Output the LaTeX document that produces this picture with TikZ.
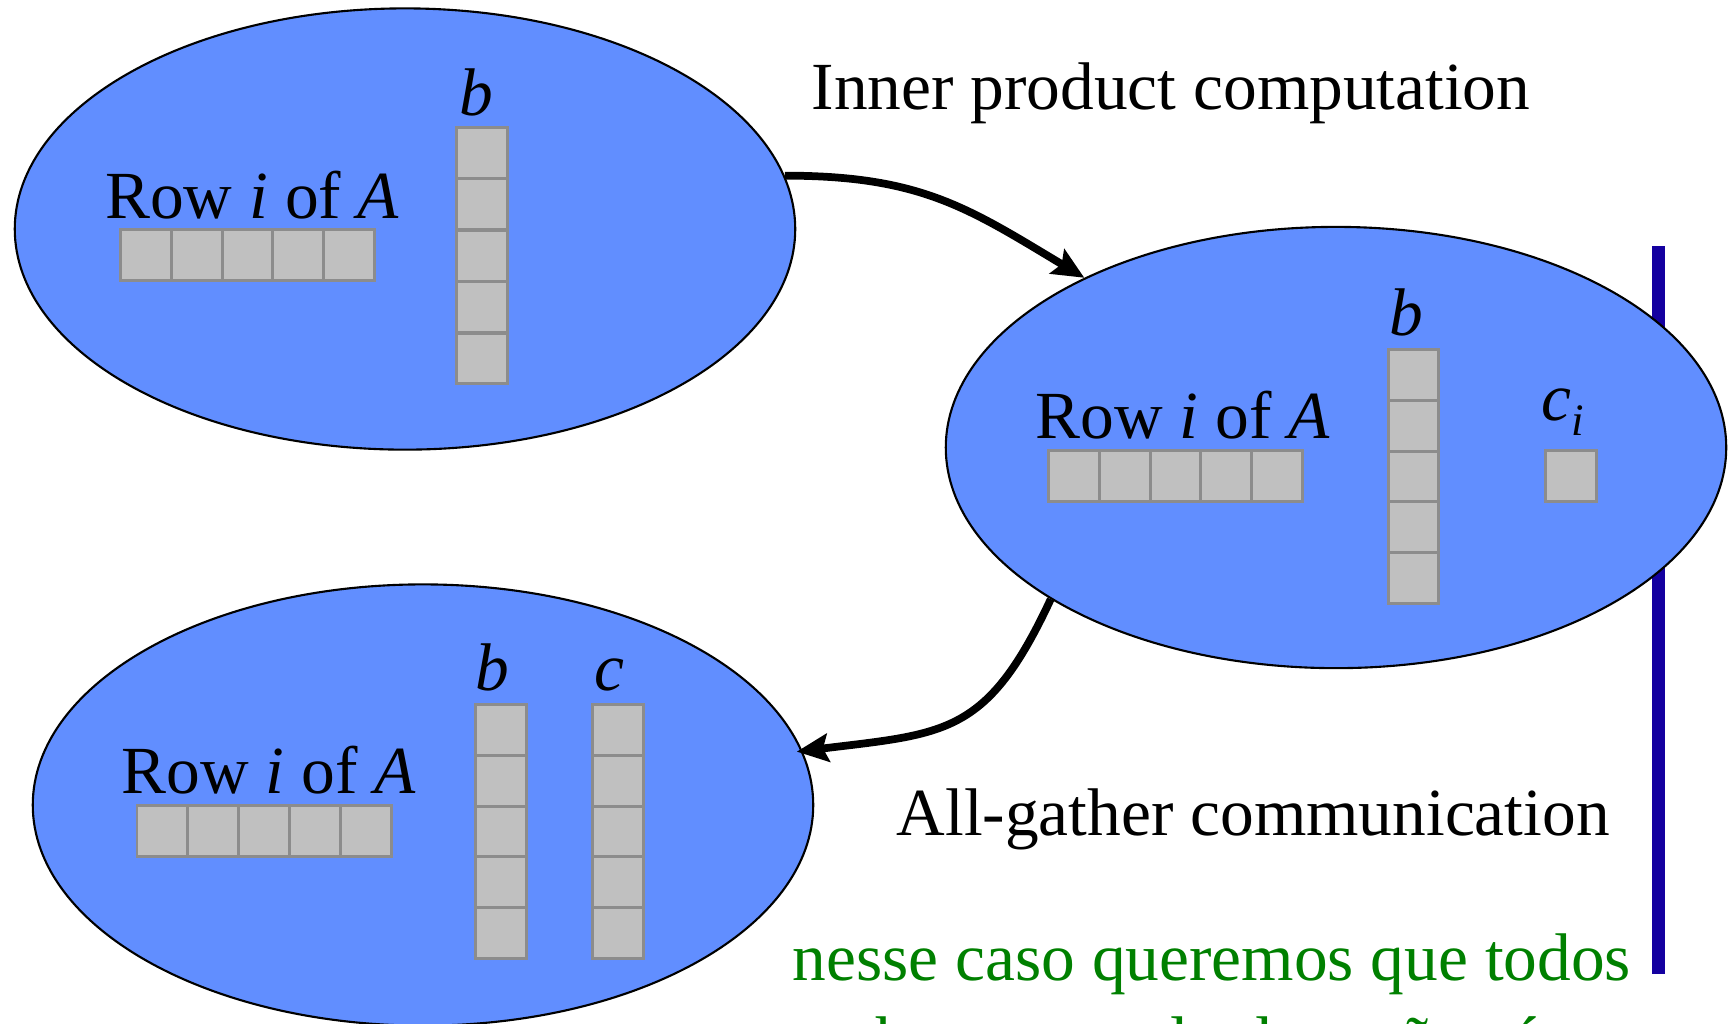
\documentclass[tikz,border=0pt]{standalone}
\usepackage{fontspec}
\setmainfont{Liberation Serif}
\usetikzlibrary{shapes.geometric,arrows.meta}

\definecolor{procblue}{RGB}{97,142,255}
\definecolor{cellfill}{RGB}{192,192,192}
\definecolor{cellline}{RGB}{140,140,140}
\definecolor{barblue}{RGB}{20,0,160}
\definecolor{notegreen}{RGB}{0,128,0}

\newcommand\slidefont{\fontsize{19.16pt}{23pt}\selectfont}
\newcommand\subfont{\fontsize{12.8pt}{14pt}\selectfont}

\tikzset{
  proc/.style={ellipse, draw=black, line width=0.6pt, fill=procblue,
    minimum width=7.8cm, minimum height=4.41cm, inner sep=0pt},
  cell/.style={rectangle, draw=cellline, fill=cellfill, line width=0.85pt,
    minimum width=0.508cm, minimum height=0.508cm, inner sep=0pt, anchor=north west},
  lbl/.style={font=\slidefont, inner sep=0pt, anchor=base west},
  vlbl/.style={font=\slidefont, inner sep=0pt, anchor=base},
  note/.style={font=\slidefont, text=notegreen, inner sep=0pt, anchor=base west},
  conn/.style={line width=2.2pt, -{Stealth[length=9pt, width=8pt, inset=1.5pt]}},
}

\begin{document}
\begin{tikzpicture}[x=0.01cm, y=0.01cm]
  \useasboundingbox (0,0) rectangle (1731,-1023);
  \clip (0,0) rectangle (1731,-1023);

  % vertical bar on the right, partly hidden by the second process
  \fill[barblue] (1652,-246) rectangle (1665,-974);

  % three processes
  \node[proc] (e1) at (405,-229) {};
  \node[proc] (e2) at (1336,-447.5) {};
  \node[proc] (e3) at (423,-805) {};

  % process 1: row of A and vector b
  \node[lbl] (rowA1) at (104.6,-218) {Row \textit{i} of \textit{A}};
  \foreach \k in {0,...,4} {
    \node[cell] (r1-\k) at ({119+50.8*\k},-228) {};
    \node[cell] (b1-\k) at (455,{-126-51.4*\k}) {};
  }
  \node[vlbl] (lb1) at (476,-115) {\textit{b}};

  % process 2: row of A, vector b and element c_i
  \node[lbl] (rowA2) at (1035,-438) {Row \textit{i} of \textit{A}};
  \foreach \k in {0,...,4} {
    \node[cell] (r2-\k) at ({1047+50.8*\k},-449) {};
    \node[cell] (b2-\k) at (1386.5,{-348-50.8*\k}) {};
  }
  \node[vlbl] (lb2) at (1406,-335) {\textit{b}};
  \node[cell] (ci) at (1544,-449) {};
  \node[lbl] (lci) at (1541,-420) {\textit{c}\raisebox{-0.15cm}{\subfont\textit{i}}};

  % process 3: row of A, vector b and gathered vector c
  \node[lbl] (rowA3) at (121,-793) {Row \textit{i} of \textit{A}};
  \foreach \k in {0,...,4} {
    \node[cell] (r3-\k) at ({135.5+50.8*\k},-804) {};
    \node[cell] (b3-\k) at (474,{-703-50.8*\k}) {};
    \node[cell] (c3-\k) at (591,{-703-50.8*\k}) {};
  }
  \node[vlbl] (lb3) at (492,-690) {\textit{b}};
  \node[vlbl] (lc3) at (609,-690) {\textit{c}};

  % step captions
  \node[lbl] (cap1) at (811,-109) {Inner product computation};
  \node[lbl] (cap2) at (896,-835) {All-gather communication};

  % note
  \node[note] (note1) at (792,-980) {nesse caso queremos que todos};
  \node[note] (note2) at (792,-1063) {tenham o resultado e não só o};

  % connectors
  \draw[conn] (e1.8) to[out=0, in=149, looseness=1.1] (e2.146);
  \draw[conn] (e2.208) to[out=245, in=7, looseness=1.3] ([xshift=-0.06cm]e3.8);
\end{tikzpicture}
\end{document}
